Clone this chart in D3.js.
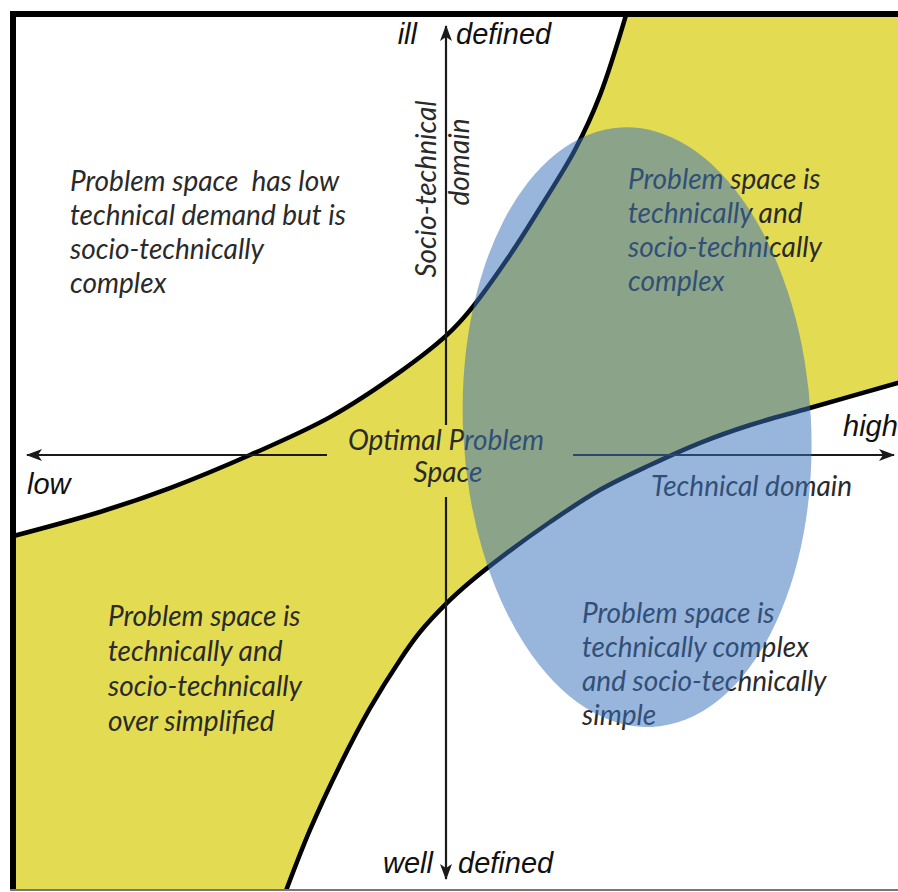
<!DOCTYPE html>
<html><head><meta charset="utf-8">
<script src="https://cdn.jsdelivr.net/npm/d3@7"></script>
<style>body{margin:0;background:#fff}svg{display:block}</style>
</head><body><svg id="c" width="898" height="892"></svg>
<script>
// ---------- data (diagram units: technical demand x, socio-technical y, -1..1) ----------
const upperX = [0.42, 0.352, 0.294, 0.225, 0.145, 0.053, 0.0, -0.108, -0.269, -0.453, -0.637, -0.798, -1.03];
const upperY = [1.04, 0.828, 0.701, 0.586, 0.460, 0.333, 0.276, 0.191, 0.087, 0.0, -0.076, -0.131, -0.195];
const lowerX = [-0.377, -0.315, -0.246, -0.177, -0.108, -0.062, 0.0, 0.053, 0.122, 0.237, 0.352, 0.467, 0.582, 0.697, 0.834, 1.045];
const lowerY = [-1.02, -0.862, -0.713, -0.582, -0.471, -0.407, -0.340, -0.292, -0.237, -0.154, -0.080, -0.023, 0.028, 0.069, 0.108, 0.168];
const ellipseCenter = [0.437, 0.064];
const ellipseRadii = [0.40, 0.69];
const ellipseTilt = -3;
const xAxisLabels = ["low", "high"];
const yAxisTop = ["ill", "defined"];
const yAxisBottom = ["well", "defined"];
const yAxisTitle = ["Socio-technical", "domain"];
const xAxisTitle = "Technical domain";
const centerLabel = ["Optimal Problem", "Space"];
const textTopLeft = ["Problem space  has low", "technical demand but is", "socio-technically", "complex"];
const textTopRight = ["Problem space is", "technically and", "socio-technically", "complex"];
const textBottomLeft = ["Problem space is", "technically and", "socio-technically", "over simplified"];
const textBottomRight = ["Problem space is", "technically complex", "and socio-technically", "simple"];

// ---------- layout ----------
const svg = d3.select("#c");
const x = d3.scaleLinear().domain([-1, 1]).range([12, 882]);
const y = d3.scaleLinear().domain([-1, 1]).range([890, 20]);
const frame = {x0: 13, y0: 14, x1: 898, y1: 890};
const calibri = "Lato, 'Open Sans', sans-serif";
const arial = "'Liberation Sans', Arial, sans-serif";
const ink = "#2a2a2a";
const fs = 28;

svg.append("rect").attr("width", 898).attr("height", 892).attr("fill", "#fff");
const defs = svg.append("defs");
defs.append("clipPath").attr("id", "fr").append("rect")
  .attr("x", frame.x0).attr("y", frame.y0).attr("width", frame.x1 - frame.x0).attr("height", frame.y1 - frame.y0);
defs.append("marker").attr("id", "ah").attr("viewBox", "0 -6 16 12")
  .attr("refX", 15).attr("refY", 0).attr("markerWidth", 16).attr("markerHeight", 12)
  .attr("markerUnits", "userSpaceOnUse").attr("orient", "auto")
  .append("path").attr("d", "M0,-6 L16,0 L0,6 L4,0 Z").attr("fill", "#1a1a1a");

const upper = upperX.map((v, i) => [v, upperY[i]]);
const lower = lowerX.map((v, i) => [v, lowerY[i]]);
const line = d3.line().x(d => x(d[0])).y(d => y(d[1])).curve(d3.curveCatmullRom.alpha(0.5));

const g = svg.append("g").attr("clip-path", "url(#fr)");
// yellow band between the two curves
const bandPath = line(upper) + "L" + x(-1.1) + "," + y(-1.1) + line(lower).replace(/^M/, "L") +
  "L" + x(1.1) + "," + y(1.1) + "Z";
g.append("path").attr("d", bandPath).attr("fill", "#e3dc52");
g.append("path").attr("d", line(upper)).attr("fill", "none").attr("stroke", "#000").attr("stroke-width", 4.5);
g.append("path").attr("d", line(lower)).attr("fill", "none").attr("stroke", "#000").attr("stroke-width", 4.5);

// axes
const ax = svg.append("g").attr("stroke", "#1a1a1a").attr("stroke-width", 2.2).attr("fill", "none");
const y0 = y(0), x0 = x(0) - 1;
ax.append("line").attr("x1", 327).attr("y1", y0).attr("x2", 27).attr("y2", y0).attr("marker-end", "url(#ah)");
ax.append("line").attr("x1", 573).attr("y1", y0).attr("x2", 894).attr("y2", y0).attr("marker-end", "url(#ah)");
ax.append("line").attr("x1", x0).attr("y1", 425).attr("x2", x0).attr("y2", 26).attr("marker-end", "url(#ah)");
ax.append("line").attr("x1", x0).attr("y1", 497).attr("x2", x0).attr("y2", 879).attr("marker-end", "url(#ah)");

// text helpers
function block(lines, tx, ty, size, dy) {
  const t = svg.append("text").attr("x", tx).attr("y", ty).attr("font-family", calibri)
    .attr("font-style", "italic").attr("font-size", size).attr("fill", ink);
  lines.forEach((l, i) => t.append("tspan").attr("x", tx).attr("y", ty + i * dy).attr("xml:space", "preserve").text(l));
  return t;
}
block(textTopLeft, 70, 191, fs, 34);
block(textTopRight, 628, 189, fs, 34);
block(textBottomLeft, 108, 626, fs, 35);
block(textBottomRight, 582, 623, fs, 34);
block([centerLabel[0]], 446, 450, fs, 0).attr("text-anchor", "middle");
block([centerLabel[1]], 448, 482, fs, 0).attr("text-anchor", "middle");
block([xAxisTitle], 651, 496, fs, 0);
svg.append("text").attr("transform", "translate(436,189) rotate(-90)").attr("text-anchor", "middle")
  .attr("font-family", calibri).attr("font-style", "italic").attr("font-size", fs).attr("fill", ink).text(yAxisTitle[0]);
svg.append("text").attr("transform", "translate(469,162) rotate(-90)").attr("text-anchor", "middle")
  .attr("font-family", calibri).attr("font-style", "italic").attr("font-size", fs).attr("fill", ink).text(yAxisTitle[1]);

function lab(s, tx, ty, anchor) {
  svg.append("text").attr("x", tx).attr("y", ty).attr("text-anchor", anchor || "start")
    .attr("font-family", arial).attr("font-style", "italic").attr("font-size", 29).attr("fill", "#111").text(s);
}
lab(xAxisLabels[0], 27, 494);
lab(xAxisLabels[1], 843, 436);
lab(yAxisTop[0], 417, 44, "end");
lab(yAxisTop[1], 456, 44);
lab(yAxisBottom[0], 433, 873, "end");
lab(yAxisBottom[1], 458, 873);

// ellipse
svg.append("ellipse")
  .attr("transform", `translate(${x(ellipseCenter[0])},${y(ellipseCenter[1])}) rotate(${ellipseTilt})`)
  .attr("rx", x(ellipseRadii[0]) - x(0)).attr("ry", y(0) - y(ellipseRadii[1]))
  .attr("fill", "rgb(57,113,188)").attr("fill-opacity", 0.52);

// frame
svg.append("line").attr("x1", 10).attr("x2", 898).attr("y1", 14).attr("y2", 14).attr("stroke", "#000").attr("stroke-width", 6);
svg.append("line").attr("x1", 13).attr("x2", 13).attr("y1", 11).attr("y2", 891).attr("stroke", "#000").attr("stroke-width", 6);
svg.append("line").attr("x1", 10).attr("x2", 898).attr("y1", 890).attr("y2", 890).attr("stroke", "#777").attr("stroke-width", 2);
</script></body></html>
